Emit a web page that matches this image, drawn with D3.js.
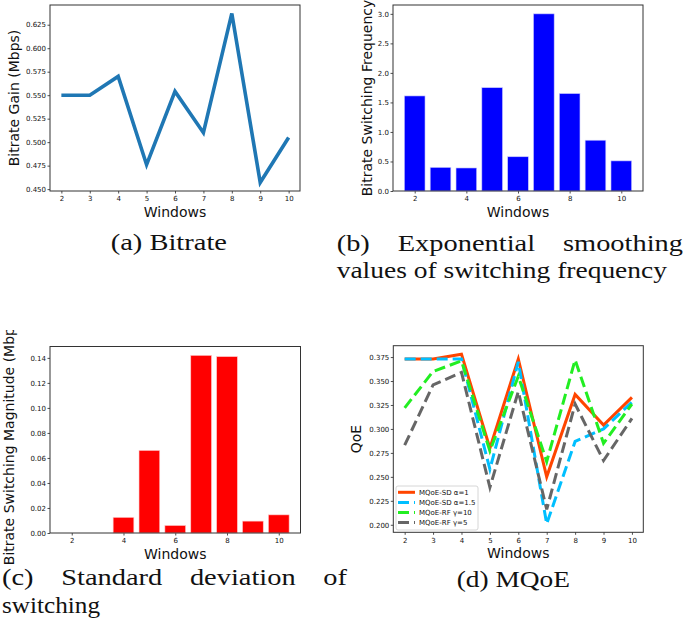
<!DOCTYPE html>
<html><head><meta charset="utf-8">
<script src="https://cdn.jsdelivr.net/npm/d3@7"></script>
<style>body{margin:0;background:#fff} svg{display:block}</style>
</head><body><svg id="c" width="685" height="624"></svg>
<script>
// ---------- data ----------
const windows = [2,3,4,5,6,7,8,9,10];
const bitrateGain = [0.550,0.550,0.570,0.476,0.554,0.510,0.637,0.457,0.505];
const switchFreq  = [1.61,0.40,0.39,1.75,0.58,3.00,1.65,0.86,0.51];
const switchMag   = [0,0,0.0125,0.066,0.006,0.142,0.141,0.0095,0.0145];
const qoeSD1   = [0.373,0.373,0.378,0.280,0.373,0.250,0.336,0.304,0.333];
const qoeSD15  = [0.373,0.373,0.373,0.258,0.370,0.201,0.287,0.300,0.328];
const qoeRF10  = [0.322,0.360,0.371,0.277,0.355,0.266,0.372,0.285,0.326];
const qoeRF5   = [0.283,0.346,0.359,0.239,0.339,0.216,0.326,0.267,0.311];
const qoeNames = ["MQoE-SD α=1","MQoE-SD α=1.5","MQoE-RF γ=10","MQoE-RF γ=5"];
const ticksA = [0.450,0.475,0.500,0.525,0.550,0.575,0.600,0.625];
const ticksB = [0.0,0.5,1.0,1.5,2.0,2.5,3.0];
const ticksC = [0.00,0.02,0.04,0.06,0.08,0.10,0.12,0.14];
const ticksD = [0.200,0.225,0.250,0.275,0.300,0.325,0.350,0.375];
const xTicksAll = [2,3,4,5,6,7,8,9,10];
const xTicksEven = [2,4,6,8,10];

// ---------- helpers ----------
const svg = d3.select("#c");
svg.append("rect").attr("width",685).attr("height",624).attr("fill","#fff");
const sans = "DejaVu Sans";

function padExtent(lo, hi){ const m=(hi-lo)*0.05; return [lo-m, hi+m]; }

function panel(box, xDomain, yDomain, xt, yt, yfmt, xlabel, ylabel, ylx, clipTop){
  const x = d3.scaleLinear().domain(xDomain).range([box.l, box.r]);
  const y = d3.scaleLinear().domain(yDomain).range([box.b, box.t]);
  const g = svg.append("g");
  const ax = g.append("g").attr("transform",`translate(0,${box.b})`)
    .call(d3.axisBottom(x).tickValues(xt).tickFormat(d3.format("d")).tickSize(2.5).tickPadding(3));
  const ay = g.append("g").attr("transform",`translate(${box.l},0)`)
    .call(d3.axisLeft(y).tickValues(yt).tickFormat(d3.format(yfmt)).tickSize(2.5).tickPadding(1.5));
  [ax,ay].forEach(a=>{
    a.select(".domain").remove();
    a.selectAll("line").attr("stroke","#222").attr("stroke-width",0.8);
    a.selectAll("text").attr("font-family",sans).attr("font-size",7).attr("fill","#111");
  });
  g.append("text").attr("x",(box.l+box.r)/2).attr("y",box.b+26)
    .attr("text-anchor","middle").attr("font-family",sans).attr("font-size",14).attr("fill","#111").text(xlabel);
  let lg = g;
  if (clipTop !== undefined){
    const id = "clip"+Math.round(box.l)+Math.round(box.t);
    svg.append("clipPath").attr("id",id).append("rect").attr("x",0).attr("y",clipTop).attr("width",685).attr("height",624-clipTop);
    lg = g.append("g").attr("clip-path",`url(#${id})`);
  }
  lg.append("text").attr("transform",`translate(${ylx},${(box.t+box.b)/2}) rotate(-90)`)
    .attr("text-anchor","middle").attr("font-family",sans).attr("font-size",14).attr("fill","#111").text(ylabel);
  const plot = g.append("g");
  g.append("rect").attr("x",box.l).attr("y",box.t).attr("width",box.r-box.l).attr("height",box.b-box.t)
    .attr("fill","none").attr("stroke","#333").attr("stroke-width",1);
  return {x,y,plot};
}

// ---------- (a) ----------
{
  const box = {l:50, r:300, t:5, b:191};
  const p = panel(box, padExtent(d3.min(windows), d3.max(windows)),
    padExtent(d3.min(bitrateGain), d3.max(bitrateGain)), xTicksAll, ticksA, ".3f",
    "Windows", "Bitrate Gain (Mbps)", 18.5);
  p.plot.append("path").datum(windows.map((w,i)=>[w,bitrateGain[i]]))
    .attr("d", d3.line().x(d=>p.x(d[0])).y(d=>p.y(d[1])))
    .attr("fill","none").attr("stroke","#1f77b4").attr("stroke-width",3.6).attr("stroke-linejoin","miter");
}

// ---------- (b) ----------
{
  const box = {l:393, r:643, t:5, b:191};
  const p = panel(box, padExtent(d3.min(windows)-0.4, d3.max(windows)+0.4),
    [0, d3.max(switchFreq)*1.05], xTicksEven, ticksB, ".1f",
    "Windows", "Bitrate Switching Frequency", 372);
  p.plot.selectAll("rect").data(windows).join("rect")
    .attr("x", w=>p.x(w-0.4)).attr("width", w=>p.x(w+0.4)-p.x(w-0.4))
    .attr("y", (w,i)=>p.y(switchFreq[i])).attr("height",(w,i)=>p.y(0)-p.y(switchFreq[i]))
    .attr("fill","#0000ff").attr("stroke","#c8c8ff").attr("stroke-width",0.6);
}

// ---------- (c) ----------
{
  const box = {l:50, r:300.5, t:346.5, b:533};
  const p = panel(box, padExtent(d3.min(windows)-0.4, d3.max(windows)+0.4),
    [0, d3.max(switchMag)*1.05], xTicksEven, ticksC, ".2f",
    "Windows", "Bitrate Switching Magnitude (Mbps)", 13.5, 330);
  p.plot.selectAll("rect").data(windows).join("rect")
    .attr("x", w=>p.x(w-0.4)).attr("width", w=>p.x(w+0.4)-p.x(w-0.4))
    .attr("y", (w,i)=>p.y(switchMag[i])).attr("height",(w,i)=>p.y(0)-p.y(switchMag[i]))
    .attr("fill","#ff0000").attr("stroke","#ffc8c8").attr("stroke-width",0.6);
}

// ---------- (d) ----------
{
  const box = {l:393.3, r:643.3, t:345.7, b:532.3};
  const all = [qoeSD1,qoeSD15,qoeRF10,qoeRF5];
  const flat = all.flat();
  const p = panel(box, padExtent(d3.min(windows), d3.max(windows)),
    padExtent(d3.min(flat), d3.max(flat)), xTicksAll, ticksD, ".3f",
    "Windows", "QoE", 360.5);
  const colors = ["#ff4500","#00bfff","#22ee22","#666666"];
  const dashes = [null,"11,5","11,5","11,5"];
  all.forEach((s,k)=>{
    p.plot.append("path").datum(windows.map((w,i)=>[w,s[i]]))
      .attr("d", d3.line().x(d=>p.x(d[0])).y(d=>p.y(d[1])))
      .attr("fill","none").attr("stroke",colors[k]).attr("stroke-width",3)
      .attr("stroke-dasharray",dashes[k]);
  });
  const lg = svg.append("g");
  lg.append("rect").attr("x",396).attr("y",486).attr("width",82).attr("height",44).attr("rx",2)
    .attr("fill","#fff").attr("fill-opacity",0.85).attr("stroke","#ccc").attr("stroke-width",0.8);
  qoeNames.forEach((n,k)=>{
    const yy = 492.3 + k*10.1;
    lg.append("line").attr("x1",398).attr("x2",415).attr("y1",yy).attr("y2",yy)
      .attr("stroke",colors[k]).attr("stroke-width",3).attr("stroke-dasharray",dashes[k]);
    lg.append("text").attr("x",419).attr("y",yy).attr("dy","0.35em")
      .attr("font-family",sans).attr("font-size",7).attr("fill","#111").text(n);
  });
}

// ---------- captions ----------
const capFont = "Liberation Serif", capSize = 23;
function measure(word){
  const t = svg.append("text").attr("font-family",capFont).attr("font-size",capSize).text(word);
  const w = t.node().getComputedTextLength(); t.remove(); return w;
}
const sx = 116 / measure("(a) Bitrate");
function capFit(text, x0, x1, y){
  svg.append("text").attr("x",x0).attr("y",y)
    .attr("textLength", x1-x0).attr("lengthAdjust","spacingAndGlyphs")
    .attr("font-family",capFont).attr("font-size",capSize).attr("fill","#111")
    .attr("xml:space","preserve").text(text);
}
function capJustify(text, x0, x1, y){
  const words = text.split(" ");
  const widths = words.map(w=>measure(w)*sx);
  const tot = d3.sum(widths);
  const gap = (x1-x0-tot)/(words.length-1);
  let x = x0;
  words.forEach((w,i)=>{
    svg.append("text").attr("transform",`translate(${x},${y}) scale(${sx},1)`)
      .attr("font-family",capFont).attr("font-size",capSize).attr("fill","#111").text(w);
    x += widths[i] + gap;
  });
}
capFit("(a) Bitrate", 110.7, 227, 250);
capJustify("(b) Exponential smoothing", 336.7, 683, 251);
capFit("values of switching frequency", 336.7, 667, 278);
capJustify("(c) Standard deviation of", 2, 347, 585);
capFit("switching", 2, 100, 613);
capFit("(d) MQoE", 456.7, 570, 586.7);
</script>
</body></html>
